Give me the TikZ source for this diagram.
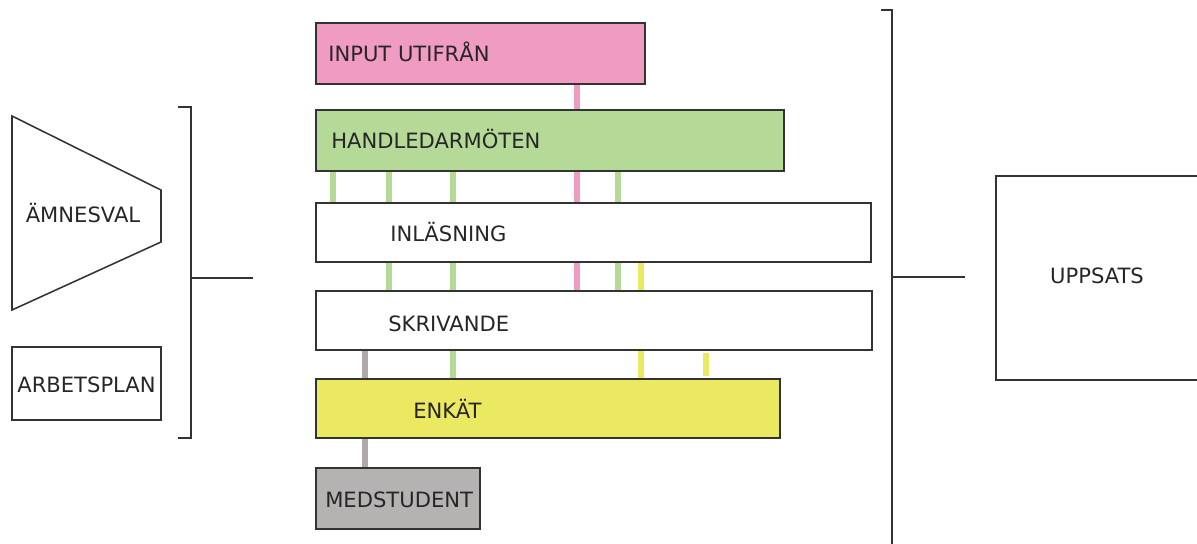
\documentclass[tikz,border=0pt]{standalone}
\usepackage{fontspec}
\setmainfont{DejaVu Sans}
\usetikzlibrary{calc}
\definecolor{rosa}{HTML}{F09BC1}
\definecolor{gron}{HTML}{B5DA98}
\definecolor{gul}{HTML}{EBE961}
\definecolor{gra}{HTML}{B5B2B2}
\definecolor{grabar}{HTML}{AEAAAA}
\definecolor{kant}{HTML}{333333}
\begin{document}
\begin{tikzpicture}[x=0.025cm,y=-0.025cm,
	box/.style={draw=kant,line width=1pt,inner sep=0pt,minimum height=1.5cm},
	txt/.style={inner sep=0pt,font=\fontsize{15}{17}\selectfont,text=black!85},
	bar/.style={line width=4pt}]
	\useasboundingbox (0,0) rectangle (1197,544);
		\node[box,fill=rosa,minimum width=8.225cm,minimum height=1.525cm] (In) at (480.5,53.5) {};
		\node[box,fill=gron,minimum width=11.7cm,minimum height=1.525cm] (Hl) at (550,140.5) {};
		\node[box,minimum width=13.875cm,minimum height=1.475cm] (Il) at (593.5,232.5) {};
		\node[box,minimum width=13.9cm,minimum height=1.475cm] (Sk) at (594,320.5) {};
		\node[box,fill=gul,minimum width=11.6cm,minimum height=1.475cm] (En) at (548,408.5) {};
		\node[box,fill=gra,minimum width=4.1cm,minimum height=1.525cm] (Ms) at (398,498.5) {};
		\node[box,minimum width=3.725cm,minimum height=1.825cm] (Ap) at (86.5,383.5) {};
		\node[box,minimum width=5.1cm,minimum height=5.1cm] (Up) at (1098,278) {};
%
		\node[txt,anchor=base west] (tIn) at (328,62) {INPUT UTIFRÅN};
		\node[txt,anchor=base west] (tHl) at (331,149) {HANDLEDARMÖTEN};
		\node[txt,anchor=base west] (tIl) at (390,242) {INLÄSNING};
		\node[txt,anchor=base west] (tSk) at (388,332) {SKRIVANDE};
		\node[txt,anchor=base west] (tEn) at (413,418) {ENKÄT};
		\node[txt,anchor=base west] (tMs) at (325,507) {MEDSTUDENT};
		\node[txt,anchor=base] (tAp) at (86.5,392) {ARBETSPLAN};
		\node[txt,anchor=base] (tUp) at (1097,284) {UPPSATS};
		\node[txt,anchor=base] (tAm) at (83,223) {ÄMNESVAL};
%
		\draw[kant,line width=1.1pt] (12,116) -- (161,190) -- (161,242) -- (12,310) -- cycle;
		\draw[kant,line width=1pt] (178,107) -- (191,107) -- (191,438) -- (178,438);
		\draw[kant,line width=1pt] (191,278) -- (253,278);
		\draw[kant,line width=1pt] (881,10) -- (892,10) -- (892,548);
		\draw[kant,line width=1pt] (892,277) -- (965,277);
%
		\path[bar,draw=rosa]
			(In.south -| 577,0) edge (Hl.north -| 577,0)
			(Hl.south -| 577,0) edge (Il.north -| 577,0)
			(Il.south -| 577,0) edge (Sk.north -| 577,0);
		\path[bar,draw=gron]
			(Hl.south -| 333,0) edge (Il.north -| 333,0)
			(Hl.south -| 389,0) edge (Il.north -| 389,0)
			(Hl.south -| 453,0) edge (Il.north -| 453,0)
			(Hl.south -| 618,0) edge (Il.north -| 618,0)
			(Il.south -| 389,0) edge (Sk.north -| 389,0)
			(Il.south -| 453,0) edge (Sk.north -| 453,0)
			(Il.south -| 618,0) edge (Sk.north -| 618,0)
			(Sk.south -| 453,0) edge (En.north -| 453,0);
		\coordinate (y1) at (706,353);
		\coordinate (y2) at (706,376);
		\path[bar,draw=gul]
			(Il.south -| 641,0) edge (Sk.north -| 641,0)
			(Sk.south -| 641,0) edge (En.north -| 641,0)
			(y1) edge (y2);
		\path[bar,draw=grabar]
			(Sk.south -| 365,0) edge (En.north -| 365,0)
			(En.south -| 365,0) edge (Ms.north -| 365,0);
	\end{tikzpicture}
\end{document}
